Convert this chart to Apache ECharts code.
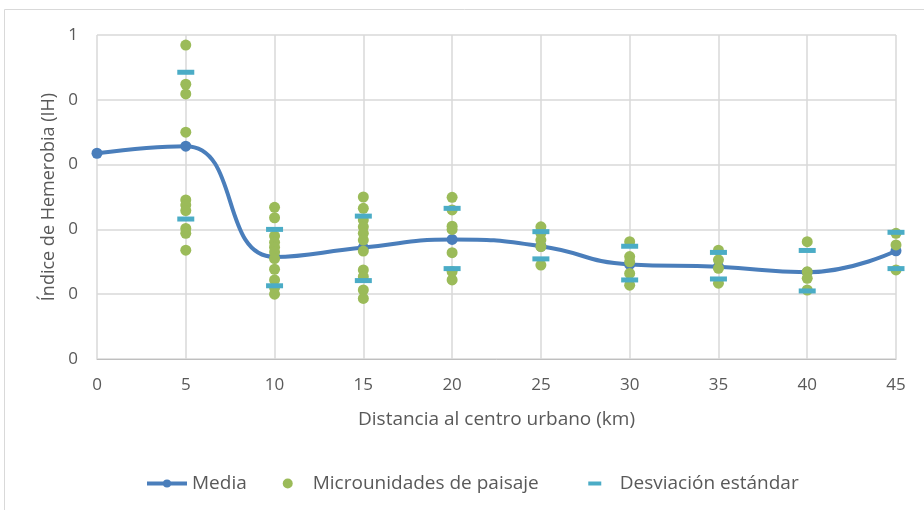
<!DOCTYPE html>
<html>
<head>
<meta charset="utf-8">
<script src="https://cdn.jsdelivr.net/npm/echarts@6/dist/echarts.min.js"></script>
<style>
  html, body { margin: 0; padding: 0; background: #fff; }
  #chart { width: 924px; height: 510px; }
</style>
</head>
<body>
<div id="chart"></div>
<script>
var chart = echarts.init(document.getElementById('chart'));

// distancias (km)
var distancias = [0, 5, 10, 15, 20, 25, 30, 35, 40, 45];
var yTickLabels = ['0', '0', '0', '0', '0', '1'];

// valores medios
var media = [0.635, 0.657, 0.315, 0.344, 0.369, 0.348, 0.292, 0.285, 0.268, 0.334];

// desviación estándar (sup / inf)
var desvSup = [null, 0.885, 0.40, 0.441, 0.465, 0.393, 0.348, 0.329, 0.335, 0.391];
var desvInf = [null, 0.432, 0.226, 0.242, 0.279, 0.309, 0.244, 0.247, 0.21, 0.279];

// microunidades de paisaje por distancia
var micro = {
  5: [0.969, 0.848, 0.818, 0.70, 0.491, 0.475, 0.458, 0.403, 0.388, 0.336],
  10: [0.468, 0.436, 0.38, 0.36, 0.345, 0.33, 0.31, 0.277, 0.244, 0.22, 0.20],
  15: [0.50, 0.465, 0.429, 0.408, 0.388, 0.367, 0.333, 0.275, 0.254, 0.213, 0.187],
  20: [0.499, 0.46, 0.41, 0.40, 0.328, 0.27, 0.244],
  25: [0.408, 0.388, 0.367, 0.347, 0.29],
  30: [0.362, 0.316, 0.30, 0.264, 0.228],
  35: [0.336, 0.306, 0.28, 0.234],
  40: [0.362, 0.269, 0.249, 0.213],
  45: [0.388, 0.352, 0.275]
};

var microData = [];
Object.keys(micro).forEach(function (k) {
  micro[k].forEach(function (v) { microData.push([+k, v]); });
});
var desvData = [];
distancias.forEach(function (d, i) {
  if (desvSup[i] != null) desvData.push([d, desvSup[i]]);
  if (desvInf[i] != null) desvData.push([d, desvInf[i]]);
});

var font = 'Open Sans';
var txt = '#595959';

var option = {
  animation: false,
  textStyle: { fontFamily: font },
  graphic: [{
    type: 'rect',
    shape: { x: 4.5, y: 9.5, width: 940, height: 520 },
    style: { fill: 'none', stroke: '#d9d9d9', lineWidth: 1 },
    silent: true
  }],
  grid: { left: 97, right: 28, top: 35, bottom: 151 },
  legend: {
    left: 140, top: 469,
    itemWidth: 40, itemHeight: 10, itemGap: 36,
    lineStyle: { width: 4 },
    textStyle: { color: txt, fontSize: 19, fontFamily: font },
    data: [
      { name: 'Media' },
      { name: 'Microunidades de paisaje', icon: 'circle' },
      // guion centrado dentro de la caja del icono
      { name: 'Desviación estándar', icon: 'path://M0,0 M40,10 M13.5,3 H26.5 V7 H13.5 Z' }
    ]
  },
  xAxis: {
    type: 'value',
    min: 0, max: 45, interval: 5,
    name: 'Distancia al centro urbano (km)',
    nameLocation: 'middle', nameGap: 51,
    nameTextStyle: { color: txt, fontSize: 19, fontFamily: font },
    axisLine: { show: true, lineStyle: { color: '#bfbfbf', width: 1 } },
    axisTick: { show: false },
    axisLabel: { color: txt, fontSize: 17, margin: 18 },
    splitLine: { show: true, lineStyle: { color: '#d9d9d9', width: 1.5 } }
  },
  yAxis: {
    type: 'value',
    min: 0, max: 1, interval: 0.2,
    name: 'Índice de Hemerobia (IH)',
    nameLocation: 'middle', nameGap: 37,
    nameTextStyle: { color: txt, fontSize: 18, fontFamily: font },
    axisLine: { show: false },
    axisTick: { show: false },
    axisLabel: {
      color: txt, fontSize: 17, margin: 19,
      formatter: function (v) { return yTickLabels[Math.round(v * 5)]; }
    },
    splitLine: { show: true, lineStyle: { color: '#d9d9d9', width: 1.5 } }
  },
  series: [{
    name: 'Media',
    type: 'line',
    smooth: 0.5,
    data: distancias.map(function (d, i) { return [d, media[i]]; }),
    symbol: 'circle',
    symbolSize: 11,
    itemStyle: { color: '#4a7ebb' },
    lineStyle: { color: '#4a7ebb', width: 4 },
    z: 2
  }, {
    name: 'Microunidades de paisaje',
    type: 'scatter',
    data: microData,
    symbol: 'circle',
    symbolSize: 11,
    itemStyle: { color: '#9bbb59', opacity: 1 },
    z: 3
  }, {
    name: 'Desviación estándar',
    type: 'scatter',
    data: desvData,
    symbol: 'rect',
    symbolSize: [17, 5],
    itemStyle: { color: '#4bacc6', opacity: 1 },
    z: 4
  }]
};
chart.setOption(option);
</script>
</body>
</html>
